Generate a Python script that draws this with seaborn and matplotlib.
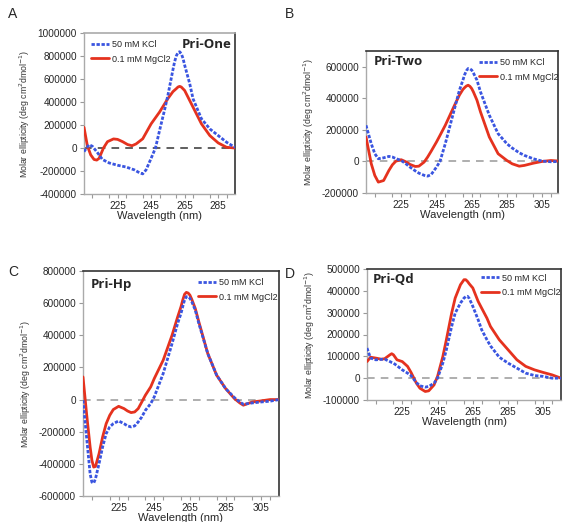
import matplotlib
matplotlib.use("Agg")
import matplotlib.pyplot as plt
import seaborn as sns
import pandas as pd
from matplotlib.ticker import MultipleLocator

# ---------------- data ----------------
a_kcl_wl = [205, 206, 208, 210, 213, 216, 220, 225, 230, 235, 238, 240, 242, 245, 247.6, 250, 253, 255, 258, 259, 260, 261, 262, 263, 264, 265, 268, 270, 275, 280, 285, 290, 295]
a_kcl = [-32000, -10000, 29000, 15000, -40000, -100000, -130000, -150000, -165000, -190000, -215000, -225000, -190000, -90000, 0, 150000, 330000, 458000, 680000, 750000, 800000, 830000, 837000, 820000, 780000, 720000, 560000, 428000, 254000, 166000, 108000, 50000, 5000]
a_mg_wl = [205, 207, 209, 211, 212.6, 214, 216.6, 219, 222.6, 225, 228, 231, 233.6, 236, 240, 245, 250, 255, 258, 260, 261, 262, 263, 264, 265, 270, 275, 280, 285, 290, 295]
a_mg = [180000, 20000, -60000, -100000, -105000, -90000, 0, 55000, 79000, 75000, 55000, 30000, 20000, 35000, 80000, 210000, 312000, 430000, 490000, 516000, 530000, 536000, 530000, 515000, 500000, 355000, 210000, 108000, 44000, 6000, 0]

b_wl = [205, 208, 210, 212, 215, 218, 220, 222, 225, 228, 230, 233, 235, 238, 240, 242, 245, 247, 250, 255, 258, 260, 261, 262, 263, 264, 265, 266, 268, 270, 275, 280, 285, 288, 292, 295, 300, 305, 310, 315]
b_kcl = [229000, 112000, 49000, 17000, 23000, 32000, 28000, 18000, 6000, -18000, -36000, -60000, -74000, -88000, -93000, -83000, -36000, 0, 112000, 324000, 450000, 515000, 550000, 575000, 589000, 587000, 579000, 560000, 515000, 441000, 293000, 176000, 112000, 85000, 55000, 38000, 17000, 2000, -2000, 0]
b_mg = [155000, -15000, -89000, -131000, -121000, -57000, -21000, 2000, 11000, -4000, -19000, -32000, -30000, -4000, 28000, 65000, 123000, 165000, 229000, 350000, 420000, 456000, 468000, 478000, 483000, 476000, 462000, 440000, 388000, 314000, 155000, 49000, 6000, -15000, -30000, -25000, -11000, 0, 6000, 2000]

c_wl = [205, 207, 209, 210, 211, 212, 214, 216, 218, 220, 222, 225, 228, 230, 232, 234, 236, 238, 240, 243, 245, 250, 255, 258, 260, 261, 262, 263, 264, 265, 266, 268, 270, 275, 280, 285, 290, 293, 295, 300, 305, 310, 315]
c_kcl = [-4000, -233000, -462000, -514000, -520000, -493000, -399000, -295000, -212000, -170000, -150000, -133000, -150000, -164000, -170000, -164000, -139000, -108000, -67000, -25000, 17000, 162000, 349000, 470000, 536000, 580000, 620000, 640000, 640000, 630000, 610000, 557000, 474000, 287000, 152000, 69000, 12000, -15000, -29000, -21000, -15000, -10000, 0]
c_mg = [141000, -87000, -295000, -378000, -420000, -416000, -337000, -233000, -150000, -98000, -62000, -42000, -56000, -71000, -81000, -77000, -56000, -15000, 27000, 79000, 131000, 245000, 401000, 510000, 578000, 620000, 655000, 667000, 663000, 650000, 625000, 567000, 484000, 287000, 152000, 69000, 6000, -21000, -35000, -15000, -8000, 0, 0]

d_wl = [205, 207, 210, 213, 215, 218, 219, 220, 222, 225, 228, 230, 233, 235, 238, 240, 243, 245, 248, 250, 253, 255, 258, 260, 261, 262, 263, 265, 268, 270, 273, 275, 280, 285, 290, 295, 300, 305, 310, 315]
d_kcl = [138000, 92000, 84000, 86000, 87000, 76000, 72000, 69000, 57000, 38000, 23000, 11000, -20000, -35000, -41000, -38000, -23000, 0, 69000, 130000, 237000, 298000, 344000, 367000, 373000, 375000, 365000, 329000, 268000, 222000, 176000, 148000, 96000, 69000, 46000, 23000, 12000, 8000, 0, 0]
d_mg = [76000, 96000, 92000, 87000, 89000, 107000, 112000, 107000, 84000, 76000, 54000, 26000, -23000, -46000, -61000, -58000, -31000, 8000, 99000, 176000, 298000, 367000, 428000, 451000, 451000, 443000, 432000, 413000, 352000, 321000, 275000, 237000, 176000, 130000, 84000, 54000, 38000, 26000, 15000, 0]

series_names = ["50 mM KCl", "0.1 mM MgCl2"]
panel_titles = ["Pri-One", "Pri-Two", "Pri-Hp", "Pri-Qd"]
panel_letters = ["A", "B", "C", "D"]
xticks = [225, 245, 265, 285, 305]

panels = [
    (a_kcl_wl, a_kcl, a_mg_wl, a_mg),
    (b_wl, b_kcl, b_wl, b_mg),
    (c_wl, c_kcl, c_wl, c_mg),
    (d_wl, d_kcl, d_wl, d_mg),
]

# ---------------- style ----------------
sns.set_style("white")
plt.rcParams["font.family"] = ["Liberation Sans", "DejaVu Sans"]

W, H = 563, 522
fig = plt.figure(figsize=(W / 100, H / 100), dpi=100)

def rect(l, r, t, b):
    return [l / W, 1 - b / H, (r - l) / W, (b - t) / H]

rects = [rect(84, 235, 33, 194), rect(366, 558, 51, 193),
         rect(83, 279, 271, 496), rect(367, 561, 269, 400)]
xlims = [(205, 295), (205, 314), (205, 315), (205, 315)]
ylims = [(-400000, 1000000), (-200000, 700000), (-600000, 800000), (-100000, 500000)]
ysteps = [200000, 200000, 200000, 100000]
zero_colors = ["#333333", "#999999", "#999999", "#999999"]
title_pos = [("right", 0.98), ("left", 0.04), ("left", 0.04), ("left", 0.03)]
leg_pos = [(0.0, 1.0), (0.55, 1.0), (0.55, 1.0), (0.55, 1.02)]
letter_pos = [(8, 18), (285, 18), (8, 276), (285, 278)]

blue = "#3a55e0"
red = "#e5321e"

for i, (wk, vk, wm, vm) in enumerate(panels):
    ax = fig.add_axes(rects[i])
    df = pd.concat([
        pd.DataFrame({"wl": wk, "val": vk, "cond": series_names[0]}),
        pd.DataFrame({"wl": wm, "val": vm, "cond": series_names[1]}),
    ])
    ax.axhline(0, color=zero_colors[i], lw=1.1, ls=(0, (5, 4)), zorder=1)
    sns.lineplot(data=df[df.cond == series_names[1]], x="wl", y="val", ax=ax,
                 color=red, lw=2.0, label=series_names[1], zorder=3, estimator=None, sort=False)
    sns.lineplot(data=df[df.cond == series_names[0]], x="wl", y="val", ax=ax,
                 color=blue, lw=2.0, ls=(0, (1.2, 0.6)), label=series_names[0], zorder=4,
                 estimator=None, sort=False)
    ax.set_xlim(*xlims[i])
    ax.set_ylim(*ylims[i])
    ax.set_xticks([t for t in xticks if t <= xlims[i][1]])
    ax.xaxis.set_minor_locator(MultipleLocator(10))
    ax.yaxis.set_major_locator(MultipleLocator(ysteps[i]))
    ax.tick_params(axis="both", which="both", direction="out", length=3, width=0.8,
                   color="#999999", labelsize=7.2, pad=2, bottom=True, left=True)
    ax.tick_params(axis="x", which="minor", length=3)
    ax.tick_params(axis="x", which="major", labelsize=7.2)
    ax.set_xlabel("Wavelength (nm)", fontsize=8, labelpad=0)
    ax.set_ylabel("Molar ellipticity (deg cm$^2$dmol$^{-1}$)", fontsize=6.3,
                  color="#333333", labelpad=4)
    ax.yaxis.set_major_formatter(matplotlib.ticker.FuncFormatter(lambda v, p: f"{int(round(v))}"))
    for s in ["left", "bottom"]:
        ax.spines[s].set_color("#aaaaaa")
        ax.spines[s].set_linewidth(1.0)
    for s in ["top", "right"]:
        ax.spines[s].set_color("#333333")
        ax.spines[s].set_linewidth(1.2)
    if i == 0:
        ax.spines["top"].set_color("#aaaaaa")
    ha, xpos = title_pos[i]
    ax.text(xpos, 0.97, panel_titles[i], transform=ax.transAxes, ha=ha, va="top",
            fontsize=9.5, fontweight="bold", family=["Open Sans", "DejaVu Sans"])
    h, l = ax.get_legend_handles_labels()
    order = [l.index(series_names[0]), l.index(series_names[1])]
    ax.legend([h[k] for k in order], [l[k] for k in order], loc="upper left",
              bbox_to_anchor=leg_pos[i], frameon=False, fontsize=6.5,
              handlelength=2.0, handletextpad=0.3, labelspacing=0.6, borderaxespad=0.4)
    fig.text(letter_pos[i][0] / W, 1 - letter_pos[i][1] / H, panel_letters[i],
             fontsize=10, ha="left", va="baseline")

fig.savefig("out.png", dpi=100)
